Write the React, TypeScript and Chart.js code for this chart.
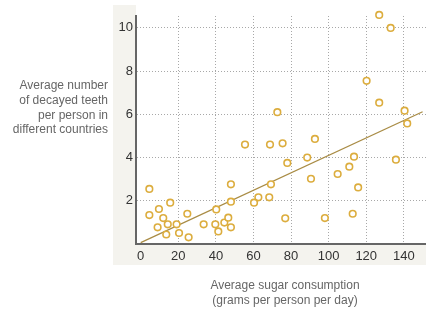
import React, { useEffect, useRef } from "react";
import { Chart, registerables } from "chart.js";

Chart.register(...registerables);

// Average sugar consumption (g per person per day)
const sugar = [
  126.9, 133, 120.2, 126.9, 72.7, 140.4, 141.8, 68.8, 75.5, 92.7,
  55.5, 78, 88.6, 113.5, 135.8, 111, 104.8, 90.6, 115.7, 69.3,
  68.4, 76.9, 98, 112.8, 4.6, 48, 15.7, 48, 62.6, 60.3,
  9.7, 4.6, 12, 24.8, 40.2, 14.4, 19.1, 9, 33.5, 39.7,
  44.5, 46.6, 48, 13.6, 20.4, 41.3, 25.5,
];
// Average number of decayed teeth per person
const teeth = [
  10.6, 10.0, 7.55, 6.54, 6.1, 6.17, 5.58, 4.6, 4.66, 4.86,
  4.6, 3.75, 4.0, 4.04, 3.9, 3.58, 3.24, 3.02, 2.62, 2.76,
  2.16, 1.19, 1.2, 1.4, 2.55, 2.76, 1.91, 1.96, 2.16, 1.91,
  1.62, 1.34, 1.2, 1.4, 1.6, 0.91, 0.91, 0.77, 0.91, 0.91,
  0.99, 1.22, 0.77, 0.44, 0.51, 0.58, 0.31,
];
const trendSugar = [0, 150];
const trendTeeth = [0.06, 6.12];

const xTicks = [0, 20, 40, 60, 80, 100, 120, 140];
const yTicks = [2, 4, 6, 8, 10];

const yTitleLines = ["Average number", "of decayed teeth", "per person in", "different countries"];
const xTitleLines = ["Average sugar consumption", "(grams per person per day)"];

const W = 426;
const H = 309;

export default function App() {
  const ref = useRef<HTMLCanvasElement | null>(null);

  useEffect(() => {
    const canvas = ref.current;
    if (!canvas) return;

    const panelPlugin = {
      id: "panel",
      beforeDraw(chart: any) {
        const { ctx, chartArea } = chart;
        ctx.save();
        ctx.fillStyle = "#f4f3ee";
        ctx.fillRect(113, 5, W - 113, 265 - 5);
        ctx.fillStyle = "#ffffff";
        ctx.fillRect(chartArea.left, 0, W - chartArea.left, chartArea.bottom);
        ctx.restore();
      },
      afterDraw(chart: any) {
        const { ctx } = chart;
        ctx.save();
        ctx.fillStyle = "#666666";
        ctx.font = "12px 'Liberation Sans', Arial, sans-serif";
        ctx.textBaseline = "middle";
        ctx.textAlign = "right";
        yTitleLines.forEach((t, i) => ctx.fillText(t, 108, 86 + i * 14.6));
        ctx.textAlign = "center";
        xTitleLines.forEach((t, i) => ctx.fillText(t, 285, 286 + i * 14.6));
        ctx.restore();
      },
    };

    const gridColor = (c: any) => (c.tick && c.tick.value === 0 ? "rgba(0,0,0,0)" : "#a8a8a8");

    const chart = new Chart(canvas, {
      type: "scatter",
      data: {
        datasets: [
          {
            type: "line",
            data: trendSugar.map((x, i) => ({ x, y: trendTeeth[i] })),
            borderColor: "#a98c45",
            borderWidth: 1.3,
            pointRadius: 0,
            fill: false,
            order: 2,
          } as any,
          {
            type: "scatter",
            data: sugar.map((x, i) => ({ x, y: teeth[i] })),
            pointRadius: 3.3,
            pointBorderWidth: 1.6,
            borderColor: "#dcad3e",
            backgroundColor: "#ffffff",
            pointBackgroundColor: "#ffffff",
            pointBorderColor: "#dcad3e",
            clip: false,
            order: 1,
          } as any,
        ],
      },
      options: {
        responsive: false,
        animation: false,
        devicePixelRatio: 1,
        layout: { autoPadding: false, padding: { top: 16, left: 0, right: 0, bottom: 0 } },
        plugins: {
          legend: { display: false },
          tooltip: { enabled: false },
          title: { display: false },
        },
        scales: {
          x: {
            type: "linear",
            min: -2.5,
            max: 151.8,
            afterBuildTicks: (s: any) => {
              s.ticks = xTicks.map((v) => ({ value: v }));
            },
            afterFit: (s: any) => {
              s.height = 65;
              s.paddingLeft = 0;
              s.paddingRight = 0;
            },
            grid: { color: gridColor, lineWidth: 1, drawTicks: false },
            border: { display: true, color: "#666666", width: 2, dash: [1, 2] },
            ticks: {
              padding: 5,
              color: "#333333",
              font: { family: "'Liberation Sans', Arial, sans-serif", size: 13 },
            },
          },
          y: {
            type: "linear",
            min: 0,
            max: 10.55,
            afterBuildTicks: (s: any) => {
              s.ticks = yTicks.map((v) => ({ value: v }));
            },
            afterFit: (s: any) => {
              s.width = 136;
              s.paddingTop = 0;
              s.paddingBottom = 0;
            },
            grid: { color: gridColor, lineWidth: 1, drawTicks: false },
            border: { display: true, color: "#666666", width: 2, dash: [1, 2] },
            ticks: {
              padding: 3,
              color: "#333333",
              font: { family: "'Liberation Sans', Arial, sans-serif", size: 13 },
            },
          },
        },
      } as any,
      plugins: [panelPlugin],
    });

    return () => chart.destroy();
  }, []);

  return (
    <div style={{ position: "fixed", left: 0, top: 0, width: W, height: H, background: "#ffffff" }}>
      <canvas ref={ref} width={W} height={H} style={{ display: "block", width: W, height: H }} />
    </div>
  );
}
